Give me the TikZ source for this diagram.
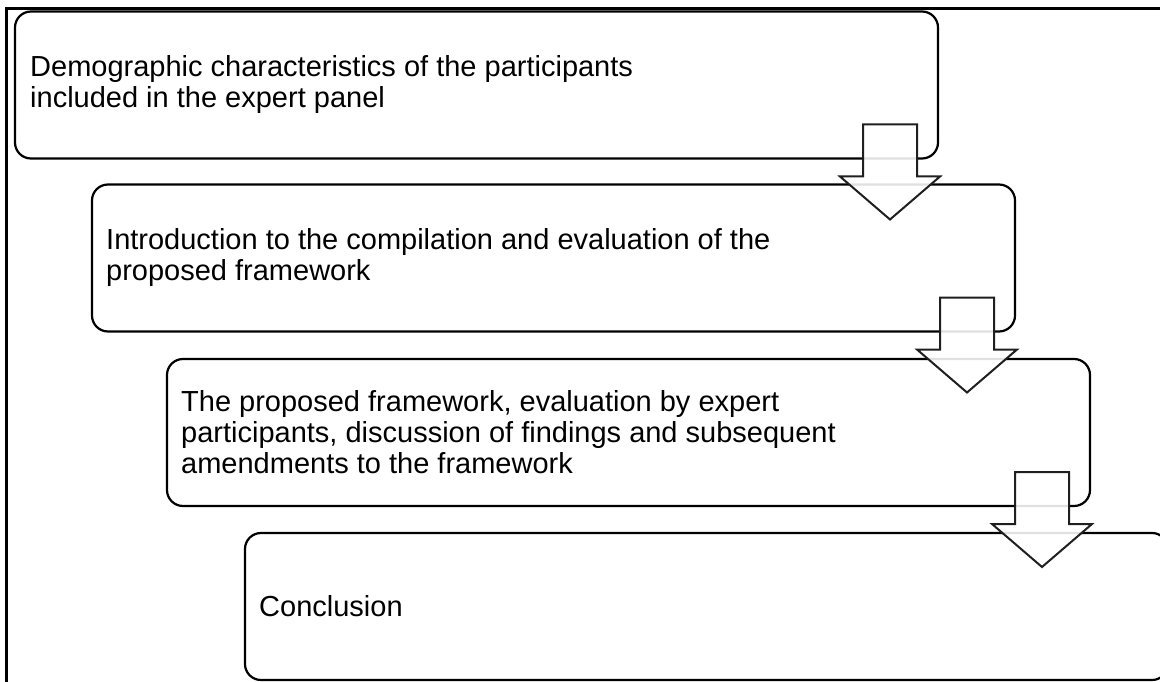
\documentclass[tikz,border=0pt]{standalone}
\usepackage{fontspec}
\setmainfont{Liberation Sans}
\usetikzlibrary{calc}
\begin{document}
\begin{tikzpicture}[x=1pt,y=-1pt,
  stepbox/.style={draw=black, line width=2.2pt, rounded corners=16pt,
    minimum width=923pt, minimum height=147pt, inner sep=0pt, outer sep=0pt,
    fill=white},
  steptext/.style={anchor=west, inner sep=0pt, align=left,
    font=\fontsize{29pt}{31pt}\selectfont, text=black},
  blockarrow/.style={draw=black!88, line width=2pt, line join=miter,
    fill=white, fill opacity=0.88}
]
\useasboundingbox (0,0) rectangle (1160,682);
\clip (0,0) rectangle (1160,682);

% outer frame (top and left rules)
\draw[line width=2.5pt] (6.7,682) -- (6.7,8.7) -- (1160,8.7);

% the four stages
\node[stepbox] (b1) at (476.5,85) {};
\node[stepbox] (b2) at (553.5,258) {};
\node[stepbox] (b3) at (628.5,432.5) {};
\node[stepbox] (b4) at (706.5,606.5) {};

\node[steptext] (t1) at ($(b1.west)+(15,0)$)
  {Demographic characteristics of the participants\\included in the expert panel};
\node[steptext] (t2) at ($(b2.west)+(14,0)$)
  {Introduction to the compilation and evaluation of the\\proposed framework};
\node[steptext] (t3) at ($(b3.west)+(14,0)$)
  {The proposed framework, evaluation by expert\\participants, discussion of findings and subsequent\\amendments to the framework};
\node[steptext] (t4) at ($(b4.west)+(14,0)$) {Conclusion};

% block arrows hanging from each stage's lower right corner
\foreach \a in {b1,b2,b3}{
  \draw[blockarrow]
    ($(\a.south east)+(-75,-34)$) -- ($(\a.south east)+(-21,-34)$)
    -- ($(\a.south east)+(-21,18)$) -- ($(\a.south east)+(2,18)$)
    -- ($(\a.south east)+(-48,61)$) -- ($(\a.south east)+(-98,18)$)
    -- ($(\a.south east)+(-75,18)$) -- cycle;
}
\end{tikzpicture}
\end{document}
